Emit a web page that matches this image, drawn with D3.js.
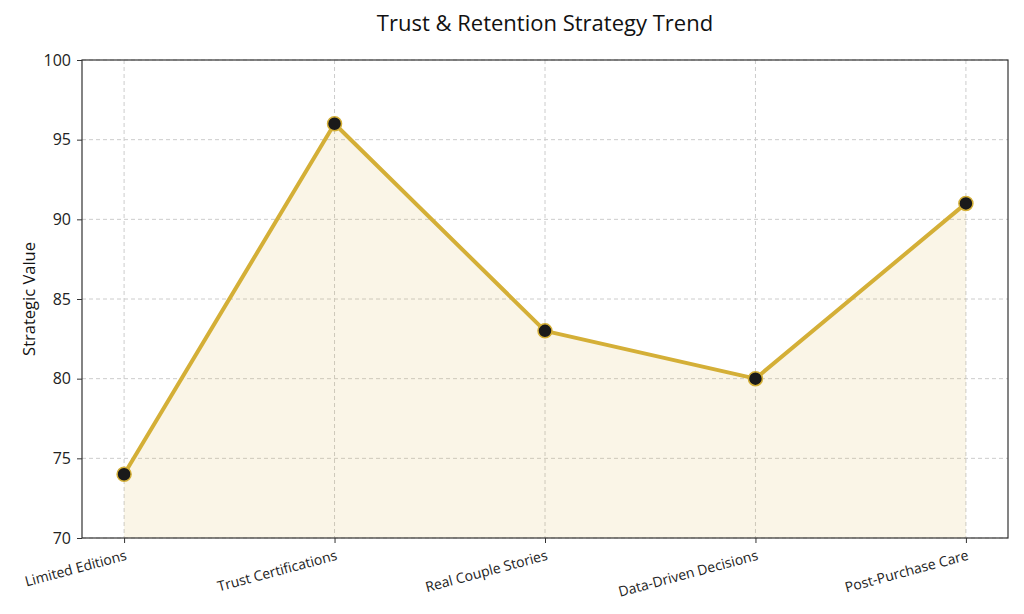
<!DOCTYPE html>
<html><head><meta charset="utf-8">
<script src="https://cdn.jsdelivr.net/npm/d3@7"></script>
<style>body{margin:0;background:#fff;} text{font-family:"Open Sans","Noto Sans",sans-serif;}</style>
</head><body>
<svg id="c" width="1024" height="614"></svg>
<script>
const categories = ["Limited Editions","Trust Certifications","Real Couple Stories","Data-Driven Decisions","Post-Purchase Care"];
const values = [74, 96, 83, 80, 91];
const yTicks = [70, 75, 80, 85, 90, 95, 100];

const svg = d3.select("#c");
const m = {l:82, r:1008, t:60, b:538};
const x = d3.scalePoint().domain(categories).range([m.l, m.r]).padding(0.2);
const y = d3.scaleLinear().domain([70,100]).range([m.b, m.t]);

// grid
const g = svg.append("g");
g.selectAll(".hg").data(yTicks).enter().append("line")
  .attr("x1", m.l).attr("x2", m.r).attr("y1", d=>y(d)).attr("y2", d=>y(d))
  .attr("stroke","#cccccc").attr("stroke-width",1).attr("stroke-dasharray","4,3");
g.selectAll(".vg").data(categories).enter().append("line")
  .attr("x1", d=>x(d)).attr("x2", d=>x(d)).attr("y1", m.t).attr("y2", m.b)
  .attr("stroke","#cccccc").attr("stroke-width",1).attr("stroke-dasharray","4,3");

const data = categories.map((c,i)=>({c, v: values[i]}));
svg.append("path").datum(data)
  .attr("d", d3.area().x(d=>x(d.c)).y0(y(70)).y1(d=>y(d.v)))
  .attr("fill","#d4af37").attr("fill-opacity",0.12);
svg.append("path").datum(data)
  .attr("d", d3.line().x(d=>x(d.c)).y(d=>y(d.v)))
  .attr("fill","none").attr("stroke","#d4af37").attr("stroke-width",4).attr("stroke-linejoin","round");
svg.selectAll(".pt").data(data).enter().append("circle")
  .attr("cx", d=>x(d.c)).attr("cy", d=>y(d.v)).attr("r",7)
  .attr("fill","#1a1a1a").attr("stroke","#d4af37").attr("stroke-width",1.5);

// frame
svg.append("rect").attr("x",m.l).attr("y",m.t).attr("width",m.r-m.l).attr("height",m.b-m.t)
  .attr("fill","none").attr("stroke","#333").attr("stroke-width",1.2);

// axes
const ya = svg.append("g").attr("transform",`translate(${m.l},0)`)
  .call(d3.axisLeft(y).tickValues(yTicks).tickSize(5).tickPadding(6));
ya.select(".domain").remove();
ya.selectAll("line").attr("stroke","#333");
ya.selectAll("text").attr("font-size",16).attr("fill","#222");

const xa = svg.append("g").attr("transform",`translate(0,${m.b})`)
  .call(d3.axisBottom(x).tickSize(5).tickPadding(4));
xa.select(".domain").remove();
xa.selectAll("line").attr("stroke","#333");
xa.selectAll("text").attr("font-size",14).attr("fill","#222")
  .attr("text-anchor","end").attr("dy","0.9em").attr("dx","-0.2em")
  .attr("transform","rotate(-15)");

svg.append("text").attr("x",545).attr("y",31).attr("text-anchor","middle")
  .attr("font-size",22).attr("fill","#111").text("Trust & Retention Strategy Trend");
svg.append("text").attr("transform","translate(35,299) rotate(-90)").attr("text-anchor","middle")
  .attr("font-size",16.5).attr("fill","#111").text("Strategic Value");
</script>
</body></html>
